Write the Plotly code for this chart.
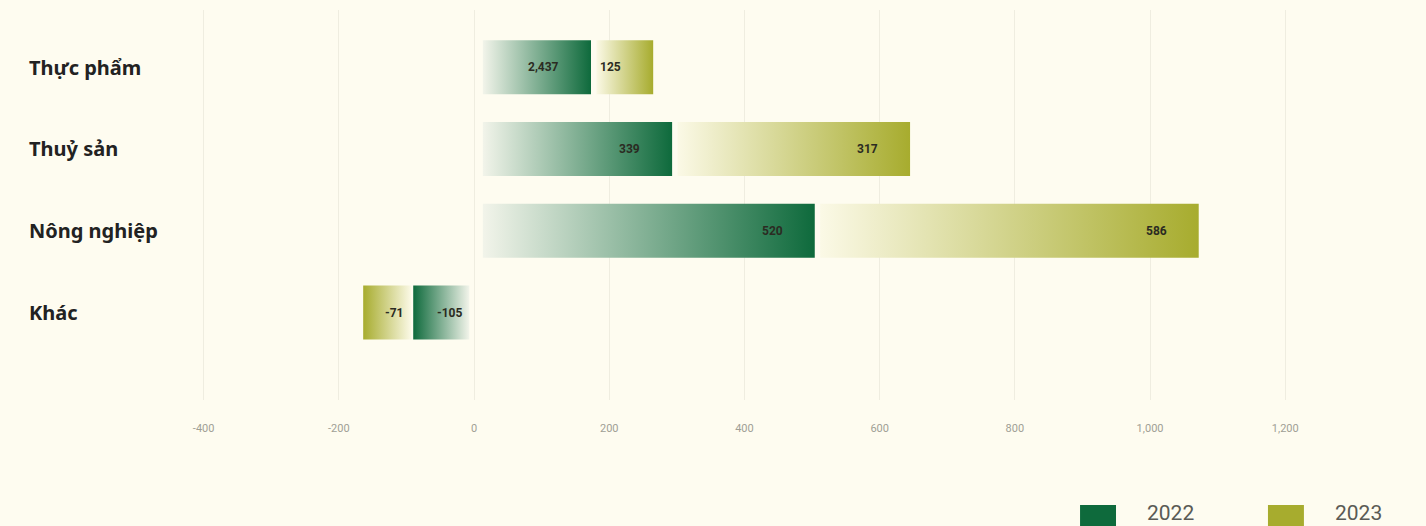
import plotly.graph_objects as go

# ---------------- data ----------------
categories = ["Thực phẩm", "Thuỷ sản", "Nông nghiệp", "Khác"]
series_names = ["2022", "2023"]
values_2022 = [160, 280, 491, -83]      # bar lengths (axis units)
values_2023 = [84, 344, 560, -71]
labels_2022 = ["2,437", "339", "520", "-105"]
labels_2023 = ["125", "317", "586", "-71"]
x_ticks = [-400, -200, 0, 200, 400, 600, 800, 1000, 1200]
x_tick_labels = ["-400", "-200", "0", "200", "400", "600", "800", "1,000", "1,200"]

# ---------------- style ----------------
BG = "#FEFCF0"
DARK_2022 = "#0E6A3C"
LIGHT_2022 = "#F2F4EA"
DARK_2023 = "#A7AC2E"
LIGHT_2023 = "#FBF9E6"
PAD_POS, PAD_NEG = 13, 7
GAP_POS, GAP_NEG = 8, 3
HALF = 0.33

fig = go.Figure()
annotations = []


def add_segment(x_start, length, yc, light, dark, label, neg):
    x_end = x_start + length
    lo, hi = min(x_start, x_end), max(x_start, x_end)
    scale = [[0, light], [1, dark]] if not neg else [[0, dark], [1, light]]
    fig.add_trace(go.Scatter(
        x=[lo, hi, hi, lo, lo],
        y=[yc - HALF, yc - HALF, yc + HALF, yc + HALF, yc - HALF],
        mode="none", fill="toself",
        fillgradient=dict(type="horizontal", colorscale=scale),
        fillcolor=dark, hoverinfo="skip", showlegend=False,
    ))
    annotations.append(dict(
        x=hi, y=yc, xref="x", yref="y", text=label, showarrow=False,
        xanchor="right", xshift=(-5 if neg else -30),
        font=dict(family="Roboto", size=12, color="#2B2B22", weight="bold"),
    ))
    return x_end


for i, cat in enumerate(categories):
    v1, v2 = values_2022[i], values_2023[i]
    neg = v1 < 0
    sign = -1 if neg else 1
    start = sign * (PAD_NEG if neg else PAD_POS)
    end1 = add_segment(start, v1, i, LIGHT_2022, DARK_2022, labels_2022[i], neg)
    start2 = end1 + sign * (GAP_NEG if neg else GAP_POS)
    add_segment(start2, v2, i, LIGHT_2023, DARK_2023, labels_2023[i], neg)
    annotations.append(dict(
        x=-0.1319, xref="paper", y=i, yref="y", text=cat, showarrow=False,
        xanchor="left", font=dict(family="Noto Sans", size=20, color="#222222", weight="bold"),
    ))

# manual legend (bottom right)
legend_items = [(series_names[0], DARK_2022, 0.7759), (series_names[1], DARK_2023, 0.9379)]
shapes = []
for name, col, x0 in legend_items:
    shapes.append(dict(type="rect", xref="paper", yref="paper", x0=x0, x1=x0 + 0.031,
                       y0=-0.325, y1=-0.269, fillcolor=col, line=dict(width=0)))
    annotations.append(dict(x=x0 + 0.056, y=-0.29, xref="paper", yref="paper", text=name,
                            showarrow=False, xanchor="left", yanchor="middle",
                            font=dict(family="Roboto", size=21, color="#5A5A55")))

fig.update_layout(
    width=1426, height=526,
    margin=dict(l=180, r=86, t=10, b=126),
    paper_bgcolor=BG, plot_bgcolor=BG,
    showlegend=False,
    annotations=annotations, shapes=shapes,
    xaxis=dict(range=[-435, 1281], tickvals=x_ticks, ticktext=x_tick_labels,
               showgrid=True, gridcolor="#EFEDE0", gridwidth=1, zeroline=False,
               showline=False, ticks="", ticklabelstandoff=20,
               tickfont=dict(family="Roboto", size=11, color="#A09F95")),
    yaxis=dict(range=[4.07, -0.70], showticklabels=False, showgrid=False,
               zeroline=False, showline=False),
)

fig.write_html("out.html")
